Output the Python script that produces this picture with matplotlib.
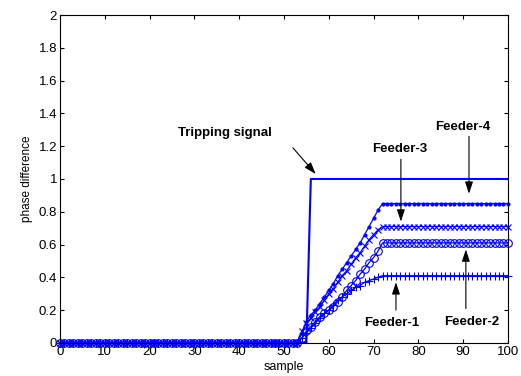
import numpy as np
import matplotlib
matplotlib.use("Agg")
import matplotlib.pyplot as plt

# samples 0..100
samples = np.arange(0, 101)

# rising part of each feeder, samples 53..72
ramp_f4 = [0.0, 0.06, 0.13, 0.17, 0.20, 0.24, 0.28, 0.32, 0.36, 0.41,
           0.45, 0.49, 0.53, 0.57, 0.61, 0.66, 0.71, 0.76, 0.81, 0.85]
ramp_f3 = [0.0, 0.07, 0.12, 0.15, 0.19, 0.22, 0.26, 0.30, 0.33, 0.37,
           0.41, 0.44, 0.48, 0.52, 0.55, 0.59, 0.63, 0.66, 0.69, 0.71]
ramp_f2 = [0.0, 0.03, 0.07, 0.10, 0.13, 0.16, 0.18, 0.20, 0.22, 0.25,
           0.28, 0.32, 0.35, 0.38, 0.42, 0.45, 0.49, 0.52, 0.56, 0.61]
ramp_f1 = [0.0, 0.03, 0.06, 0.09, 0.12, 0.15, 0.18, 0.20, 0.23, 0.26,
           0.28, 0.30, 0.32, 0.34, 0.35, 0.37, 0.38, 0.39, 0.40, 0.41]

feeder4 = [0.0] * 53 + ramp_f4 + [0.85] * 28
feeder3 = [0.0] * 53 + ramp_f3 + [0.71] * 28
feeder2 = [0.0] * 53 + ramp_f2 + [0.61] * 28
feeder1 = [0.0] * 53 + ramp_f1 + [0.41] * 28
tripping = [0.0] * 56 + [1.0] * 45

yticks = [0, 0.2, 0.4, 0.6, 0.8, 1, 1.2, 1.4, 1.6, 1.8, 2]
ytick_labels = ["0", "0.2", "0.4", "0.6", "0.8", "1", "1.2", "1.4", "1.6", "1.8", "2"]

plt.rcParams['font.family'] = ['Liberation Sans', 'DejaVu Sans']

fig = plt.figure(figsize=(5.21, 3.76), dpi=100)
ax = fig.add_axes([0.115, 0.088, 0.86, 0.872])

blue = '#0000ff'
ax.plot(samples, tripping, color=blue, lw=1.5)
ax.plot(samples, feeder4, color=blue, lw=0.9, marker='.', ms=4, clip_on=False)
ax.plot(samples, feeder3, color=blue, lw=0.9, marker='x', ms=4, mew=0.8, clip_on=False)
ax.plot(samples, feeder2, color=blue, lw=0.9, marker='o', ms=5.5, mfc='none', mew=0.8,
        clip_on=False)
ax.plot(samples, feeder1, color=blue, lw=0.9, marker='+', ms=6, mew=0.8, clip_on=False)

ax.set_xlim(0, 100)
ax.set_ylim(0, 2)
ax.set_xticks(range(0, 101, 10))
ax.set_yticks(yticks)
ax.set_yticklabels(ytick_labels)
ax.tick_params(direction='in', top=True, right=True, labelsize=9.5, length=3, pad=2)
ax.set_xlabel("sample", fontsize=9, labelpad=2.5)
ax.set_ylabel("phase difference", fontsize=8.5, labelpad=4)
for s in ax.spines.values():
    s.set_linewidth(0.8)

arrow = dict(arrowstyle='-|>,head_length=0.6,head_width=0.2', color='black', lw=0.8,
             mutation_scale=12, shrinkA=0, shrinkB=0)
bold = dict(fontsize=9.5, fontweight='bold', ha='center', va='center')

ax.annotate("", xy=(57.1, 1.03), xytext=(52.0, 1.19), arrowprops=arrow)
ax.text(36.8, 1.28, "Tripping signal", **bold)

ax.annotate("", xy=(91.3, 0.91), xytext=(91.3, 1.26), arrowprops=arrow)
ax.text(90.0, 1.32, "Feeder-4", **bold)

ax.annotate("", xy=(76.1, 0.74), xytext=(76.1, 1.12), arrowprops=arrow)
ax.text(75.9, 1.18, "Feeder-3", **bold)

ax.annotate("", xy=(75.0, 0.37), xytext=(75.0, 0.20), arrowprops=arrow)
ax.text(74.1, 0.12, "Feeder-1", **bold)

ax.annotate("", xy=(90.6, 0.57), xytext=(90.6, 0.21), arrowprops=arrow)
ax.text(92.0, 0.13, "Feeder-2", **bold)

fig.savefig("out.png", dpi=100)
